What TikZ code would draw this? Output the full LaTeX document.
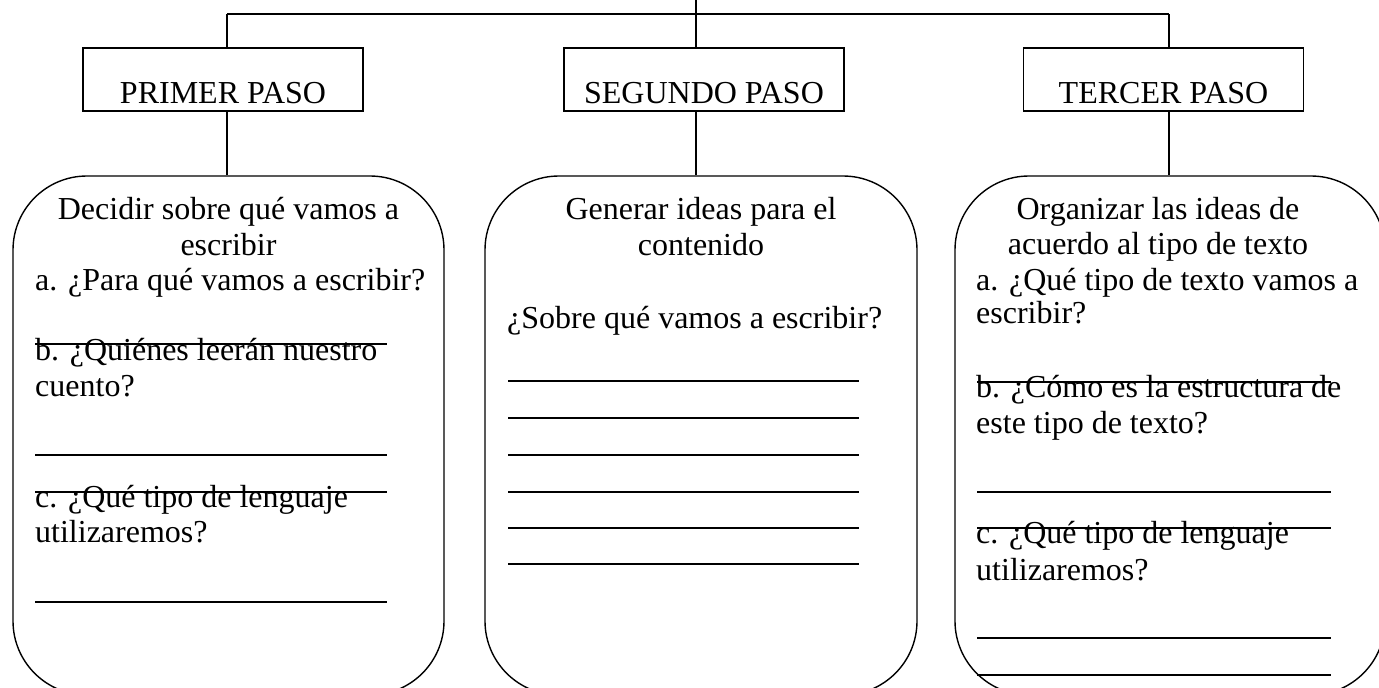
\documentclass[tikz,border=0pt]{standalone}
\usepackage{fontspec}
\setmainfont{Liberation Serif}
\begin{document}
\begin{tikzpicture}[x=1pt,y=-1pt,
  conn/.style={draw=black, line width=1.4pt},
  paso/.style={draw=black, line width=1.4pt, minimum width=280pt, minimum height=63pt,
    inner sep=0pt, text height=55pt, text depth=8pt, font=\fontsize{32}{36}\selectfont},
  rbox/.style={draw=black, line width=1.4pt, rounded corners=74pt, minimum height=519pt, inner sep=0pt},
  txt/.style={inner sep=0pt, font=\fontsize{32}{36}\selectfont},
  wline/.style={draw=black, line width=1.1pt}
]
\useasboundingbox (0,0) rectangle (1379,688);
\clip (0,0) rectangle (1379,688);

% step boxes
\node[paso] (p1) at (223,79.5) {PRIMER PASO};
\node[paso] (p2) at (704,79.5) {SEGUNDO PASO};
\node[paso] (p3) at (1163.5,79.5) {TERCER PASO};

% rounded boxes
\node[rbox, minimum width=431pt] (r1) at (228.5,435.5) {};
\node[rbox, minimum width=432pt] (r2) at (701,435.5) {};
\node[rbox, minimum width=430pt] (r3) at (1170,435.5) {};

% connectors
\coordinate (top) at (696,0);
\coordinate (hl) at (227,14);
\coordinate (hr) at (1169,14);
\draw[conn] (hl) -- (hr);
\draw[conn] (top) -- (top |- p2.north);
\draw[conn] (hl) -- (hl |- p1.north);
\draw[conn] (hr) -- (hr |- p3.north);
\draw[conn] (hl |- p1.south) -- (hl |- r1.north);
\draw[conn] (top |- p2.south) -- (top |- r2.north);
\draw[conn] (hr |- p3.south) -- (hr |- r3.north);

% box 1 text
\node[txt, anchor=base] (a1) at (228.5,219) {Decidir sobre qué vamos a};
\node[txt, anchor=base] (a2) at (228.5,255) {escribir};
\node[txt, anchor=base west] (a3) at (35,290) {a. ¿Para qué vamos a escribir?};
\node[txt, anchor=base west] (a4) at (35,360) {b. ¿Quiénes leerán nuestro};
\node[txt, anchor=base west] (a5) at (35,396) {cuento?};
\node[txt, anchor=base west] (a6) at (35,507) {c. ¿Qué tipo de lenguaje};
\node[txt, anchor=base west] (a7) at (35,542) {utilizaremos?};
\draw[wline] (35,344) -- (387,344);
\draw[wline] (35,455) -- (387,455);
\draw[wline] (35,492) -- (387,492);
\draw[wline] (35,602) -- (387,602);

% box 2 text
\node[txt, anchor=base] (b1) at (701,219) {Generar ideas para el};
\node[txt, anchor=base] (b2) at (701,255) {contenido};
\node[txt, anchor=base west] (b3) at (507,328) {¿Sobre qué vamos a escribir?};
\foreach \y in {381,418,455,492,528,564}{
  \draw[wline] (508,\y) -- (859,\y);
}

% box 3 text
\node[txt, anchor=base] (c1) at (1158,219) {Organizar las ideas de};
\node[txt, anchor=base] (c2) at (1158,254) {acuerdo al tipo de texto};
\node[txt, anchor=base west] (c3) at (976,290) {a. ¿Qué tipo de texto vamos a};
\node[txt, anchor=base west] (c4) at (976,323) {escribir?};
\node[txt, anchor=base west] (c5) at (976,397) {b. ¿Cómo es la estructura de};
\node[txt, anchor=base west] (c6) at (976,433) {este tipo de texto?};
\node[txt, anchor=base west] (c7) at (976,543) {c. ¿Qué tipo de lenguaje};
\node[txt, anchor=base west] (c8) at (976,580) {utilizaremos?};
\draw[wline] (977,382) -- (1331,382);
\draw[wline] (977,492) -- (1331,492);
\draw[wline] (977,528) -- (1331,528);
\draw[wline] (977,638) -- (1331,638);
\draw[wline] (977,675) -- (1331,675);
\end{tikzpicture}
\end{document}
